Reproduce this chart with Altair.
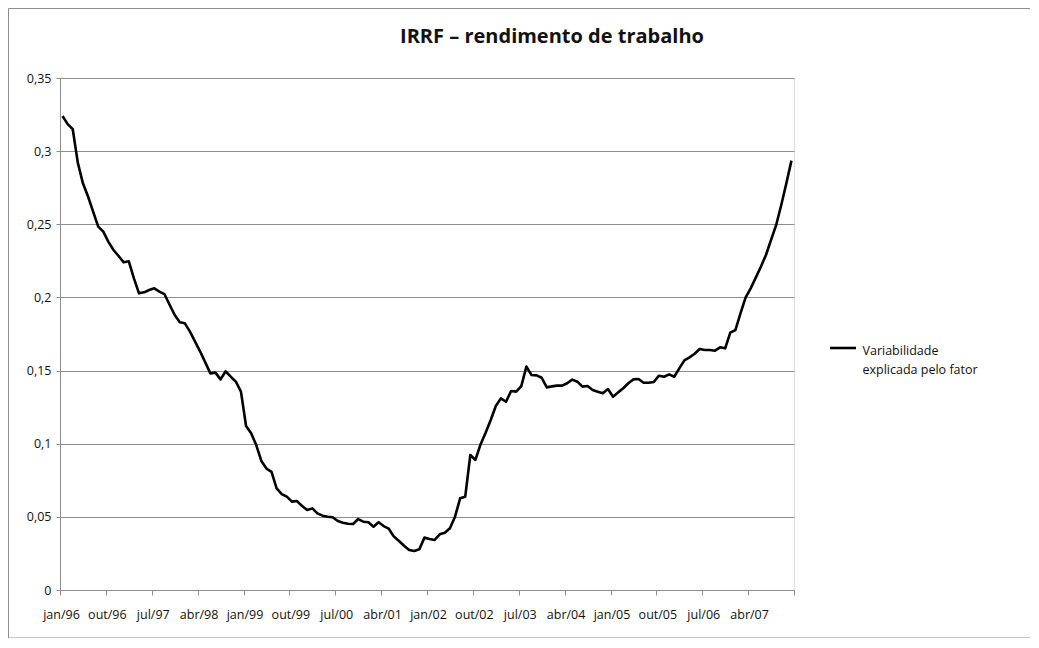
import json
import altair as alt
import pandas as pd

# ---- data -------------------------------------------------------------
month_names = ["jan", "fev", "mar", "abr", "mai", "jun",
               "jul", "ago", "set", "out", "nov", "dez"]
years = list(range(1996, 2008))

values = [
    0.324, 0.3185, 0.315, 0.292, 0.278, 0.269, 0.2586, 0.2484, 0.245, 0.238, 0.2324, 0.2283,
    0.224, 0.2247, 0.213, 0.2028, 0.2035, 0.2051, 0.2062, 0.204, 0.2022, 0.195, 0.188, 0.183,
    0.1823, 0.1766, 0.1698, 0.163, 0.1556, 0.1481, 0.1486, 0.144, 0.1495, 0.1458, 0.1424, 0.1356,
    0.1121, 0.1071, 0.0991, 0.0882, 0.083, 0.0808, 0.0695, 0.0656, 0.0638, 0.0604, 0.0608, 0.0574,
    0.0547, 0.0558, 0.0524, 0.0508, 0.0501, 0.0497, 0.0472, 0.046, 0.0453, 0.0451, 0.0485, 0.0467,
    0.0463, 0.0433, 0.0463, 0.0437, 0.0419, 0.0365, 0.0335, 0.0303, 0.0273, 0.0267, 0.0278, 0.0358,
    0.0349, 0.0342, 0.0381, 0.0392, 0.0422, 0.0501, 0.0627, 0.0638, 0.0923, 0.0889, 0.0995, 0.1075,
    0.1162, 0.1258, 0.131, 0.1287, 0.136, 0.1356, 0.1394, 0.1527, 0.147, 0.1467, 0.1451, 0.1385,
    0.1392, 0.1397, 0.1397, 0.1413, 0.1438, 0.1424, 0.139, 0.1394, 0.1367, 0.1356, 0.1345, 0.1374,
    0.1321, 0.1351, 0.1379, 0.1413, 0.144, 0.1442, 0.1417, 0.1417, 0.1422, 0.1465, 0.1458, 0.1474,
    0.1458, 0.1515, 0.157, 0.159, 0.1615, 0.1647, 0.1641, 0.1641, 0.1636, 0.1659, 0.1652, 0.1759,
    0.1777, 0.1891, 0.1998, 0.2062, 0.2135, 0.221, 0.229, 0.2393, 0.2495, 0.2632, 0.278, 0.2935,
]

tick_labels = ["jan/96", "out/96", "jul/97", "abr/98", "jan/99", "out/99", "jul/00", "abr/01",
               "jan/02", "out/02", "jul/03", "abr/04", "jan/05", "out/05", "jul/06", "abr/07"]
y_ticks = [0, 0.05, 0.1, 0.15, 0.2, 0.25, 0.3, 0.35]

series_lines = ["Variabilidade", "explicada pelo fator"]
series_name = " ".join(series_lines)
title_text = "IRRF – rendimento de trabalho"

months = [f"{m}/{str(y)[2:]}" for y in years for m in month_names]
n = len(values)
df = pd.DataFrame({
    "mes": months[:n],
    "pos": [i + 0.5 for i in range(n)],
    "valor": values,
    "serie": [series_name] * n,
})

FONT = "Open Sans"
GRID = "#8e8e8e"
TXT = "#111111"
W, H = 734, 512

x_label_expr = ("datum.value < %d ? %s[round(datum.value / 9)] : ''"
                % (n, json.dumps(tick_labels)))

line = alt.Chart(df).mark_line(strokeWidth=2.6, strokeJoin="round", color="#000000").encode(
    x=alt.X("pos:Q",
            scale=alt.Scale(domain=[0, n], nice=False, zero=False),
            axis=alt.Axis(values=list(range(0, n + 1, 9)), labelExpr=x_label_expr,
                          title=None, grid=False, domainColor=GRID, tickColor=GRID,
                          tickSize=5, labelPadding=13, labelOffset=1,
                          labelFont=FONT, labelFontSize=12.5, labelColor=TXT,
                          labelOverlap=False, labelFlush=False)),
    y=alt.Y("valor:Q",
            scale=alt.Scale(domain=[0, 0.35], nice=False),
            axis=alt.Axis(values=y_ticks,
                          labelExpr="replace(toString(datum.value), '.', ',')",
                          title=None, grid=True, gridColor=GRID, gridWidth=1,
                          domainColor=GRID, tickColor=GRID, tickSize=4, labelPadding=5,
                          labelFont=FONT, labelFontSize=12.5, labelColor=TXT)),
    detail="serie:N",
)

# legend (drawn as a symbol + two-line label, as in the original)
leg_df = pd.DataFrame({"serie": [series_name], "rotulo": ["\n".join(series_lines)]})
leg_symbol = alt.Chart(leg_df).mark_rule(strokeWidth=2.6, color="#000000").encode(
    x=alt.value(770), x2=alt.value(796), y=alt.value(270), detail="serie:N"
)
leg_text = alt.Chart(leg_df).mark_text(
    align="left", baseline="middle", lineBreak="\n", lineHeight=19.5,
    font=FONT, fontSize=12.5, color=TXT
).encode(x=alt.value(802.5), y=alt.value(272.7), text="rotulo:N")

# chart title
title_df = pd.DataFrame({"titulo": [title_text]})
title = alt.Chart(title_df).mark_text(
    align="center", baseline="alphabetic", font=FONT, fontSize=20,
    fontWeight="bold", color=TXT
).encode(x=alt.value(492), y=alt.value(-35), text="titulo:N")

frame = alt.Chart(pd.DataFrame({"k": [0]})).mark_rect(
    fill=None, stroke="#8e8e8e", strokeWidth=1
).encode(
    x=alt.value(-51.5), x2=alt.value(971.5), y=alt.value(-69.5), y2=alt.value(560)
)

chart = alt.layer(frame, line, leg_symbol, leg_text, title).properties(
    width=W, height=H,
    autosize=alt.AutoSizeParams(type="none"),
    padding={"left": 52, "top": 70, "right": 236, "bottom": 48},
).configure_view(stroke=None).configure(background="white")

chart.save("out.html", embed_options={"renderer": "svg", "actions": False})
